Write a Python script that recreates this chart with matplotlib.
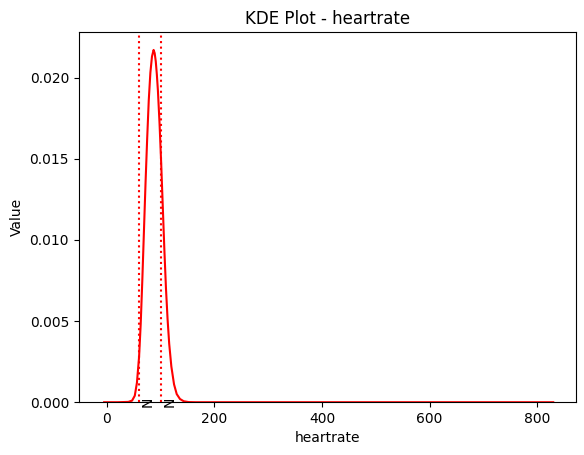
import matplotlib.pyplot as plt

heartrate = [-5, 20, 40, 47, 52, 56, 60, 63, 66, 69, 72, 75, 78, 81, 84, 87, 89, 91, 93, 95,
             98, 101, 104, 107, 110, 113, 116, 120, 125, 130, 136, 143, 152, 165, 185, 300, 500, 830]
density = [0.0, 0.0, 0.00002, 0.0001, 0.0004, 0.0012, 0.0028, 0.0048, 0.0075, 0.0105, 0.0135,
           0.0162, 0.0186, 0.0203, 0.0213, 0.0217, 0.0215, 0.0210, 0.0202, 0.0192,
           0.0172, 0.0148, 0.0121, 0.0094, 0.0070, 0.0051, 0.0036, 0.0022, 0.0011, 0.0005,
           0.0002, 0.00006, 0.00001, 0.0, 0.0, 0.0, 0.0, 0.0]
normal_range = [60, 100]

fig, ax = plt.subplots(figsize=(5.84, 4.55), dpi=100)
fig.subplots_adjust(left=0.135, right=0.986, top=0.929, bottom=0.116)
ax.plot(heartrate, density, color='red')
for x in normal_range:
    ax.axvline(x, color='red', linestyle=':')
    ax.text(x + 3, 0, 'N', rotation=90, ha='left', va='center', fontsize=10)

ax.set_xlim(-52, 872)
ax.set_ylim(0, None)
ax.set_title('KDE Plot - heartrate')
ax.set_xlabel('heartrate')
ax.set_ylabel('Value')
fig.savefig('out.png')
